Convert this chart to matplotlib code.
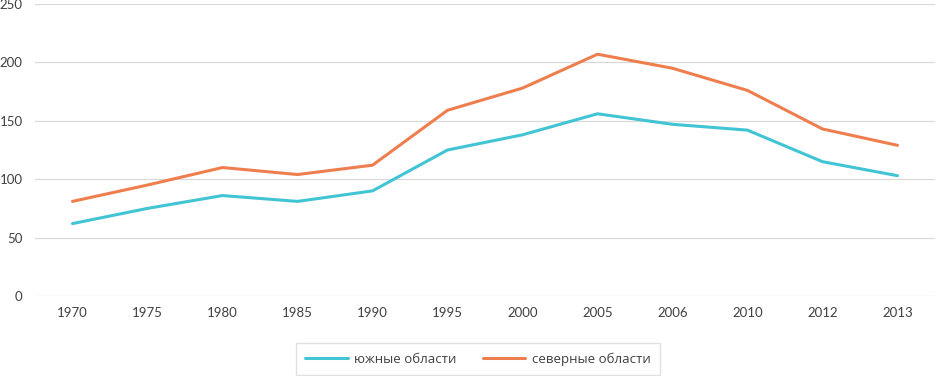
import matplotlib
matplotlib.use("Agg")
import matplotlib.pyplot as plt

years = ["1970", "1975", "1980", "1985", "1990", "1995", "2000", "2005", "2006", "2010", "2012", "2013"]
south = [62, 75, 86, 81, 90, 125, 138, 156, 147, 142, 115, 103]
north = [81, 95, 110, 104, 112, 159, 178, 207, 195, 176, 143, 129]

TEAL = "#41C4D3"
ORANGE = "#EE7E4E"
GRID = "#D9D9D9"
TXT = "#404040"

fig = plt.figure(figsize=(9.36, 3.76), dpi=100, facecolor="white")
ax = fig.add_axes([35 / 936, 80 / 376, 900 / 936, 292 / 376])

x = list(range(len(years)))
ax.plot(x, south, color=TEAL, lw=2.2, label="южные области", solid_capstyle="round")
ax.plot(x, north, color=ORANGE, lw=2.2, label="северные области", solid_capstyle="round")

ax.set_xlim(-0.5, len(years) - 0.5)
ax.set_ylim(0, 250)
ax.set_yticks(range(0, 251, 50))
ax.set_xticks(x)
ax.set_xticklabels(years)
ax.grid(axis="y", color=GRID, lw=0.9)
ax.set_axisbelow(True)
for s in ax.spines.values():
    s.set_visible(False)
ax.tick_params(length=0, colors=TXT, labelsize=9.5)
ax.tick_params(axis="x", pad=8)
ax.tick_params(axis="y", pad=9)
for lab in ax.get_xticklabels() + ax.get_yticklabels():
    lab.set_fontfamily("Lato")

leg = fig.legend(loc="center", bbox_to_anchor=(478 / 936, 1 - 359 / 376), ncol=2,
                 frameon=True, fancybox=False, edgecolor=GRID,
                 prop={"family": "Open Sans", "size": 9.5}, handlelength=3.2,
                 columnspacing=2.0, borderpad=0.7, handletextpad=0.5)
for t in leg.get_texts():
    t.set_color(TXT)

fig.savefig("out.png", dpi=100, facecolor="white")
